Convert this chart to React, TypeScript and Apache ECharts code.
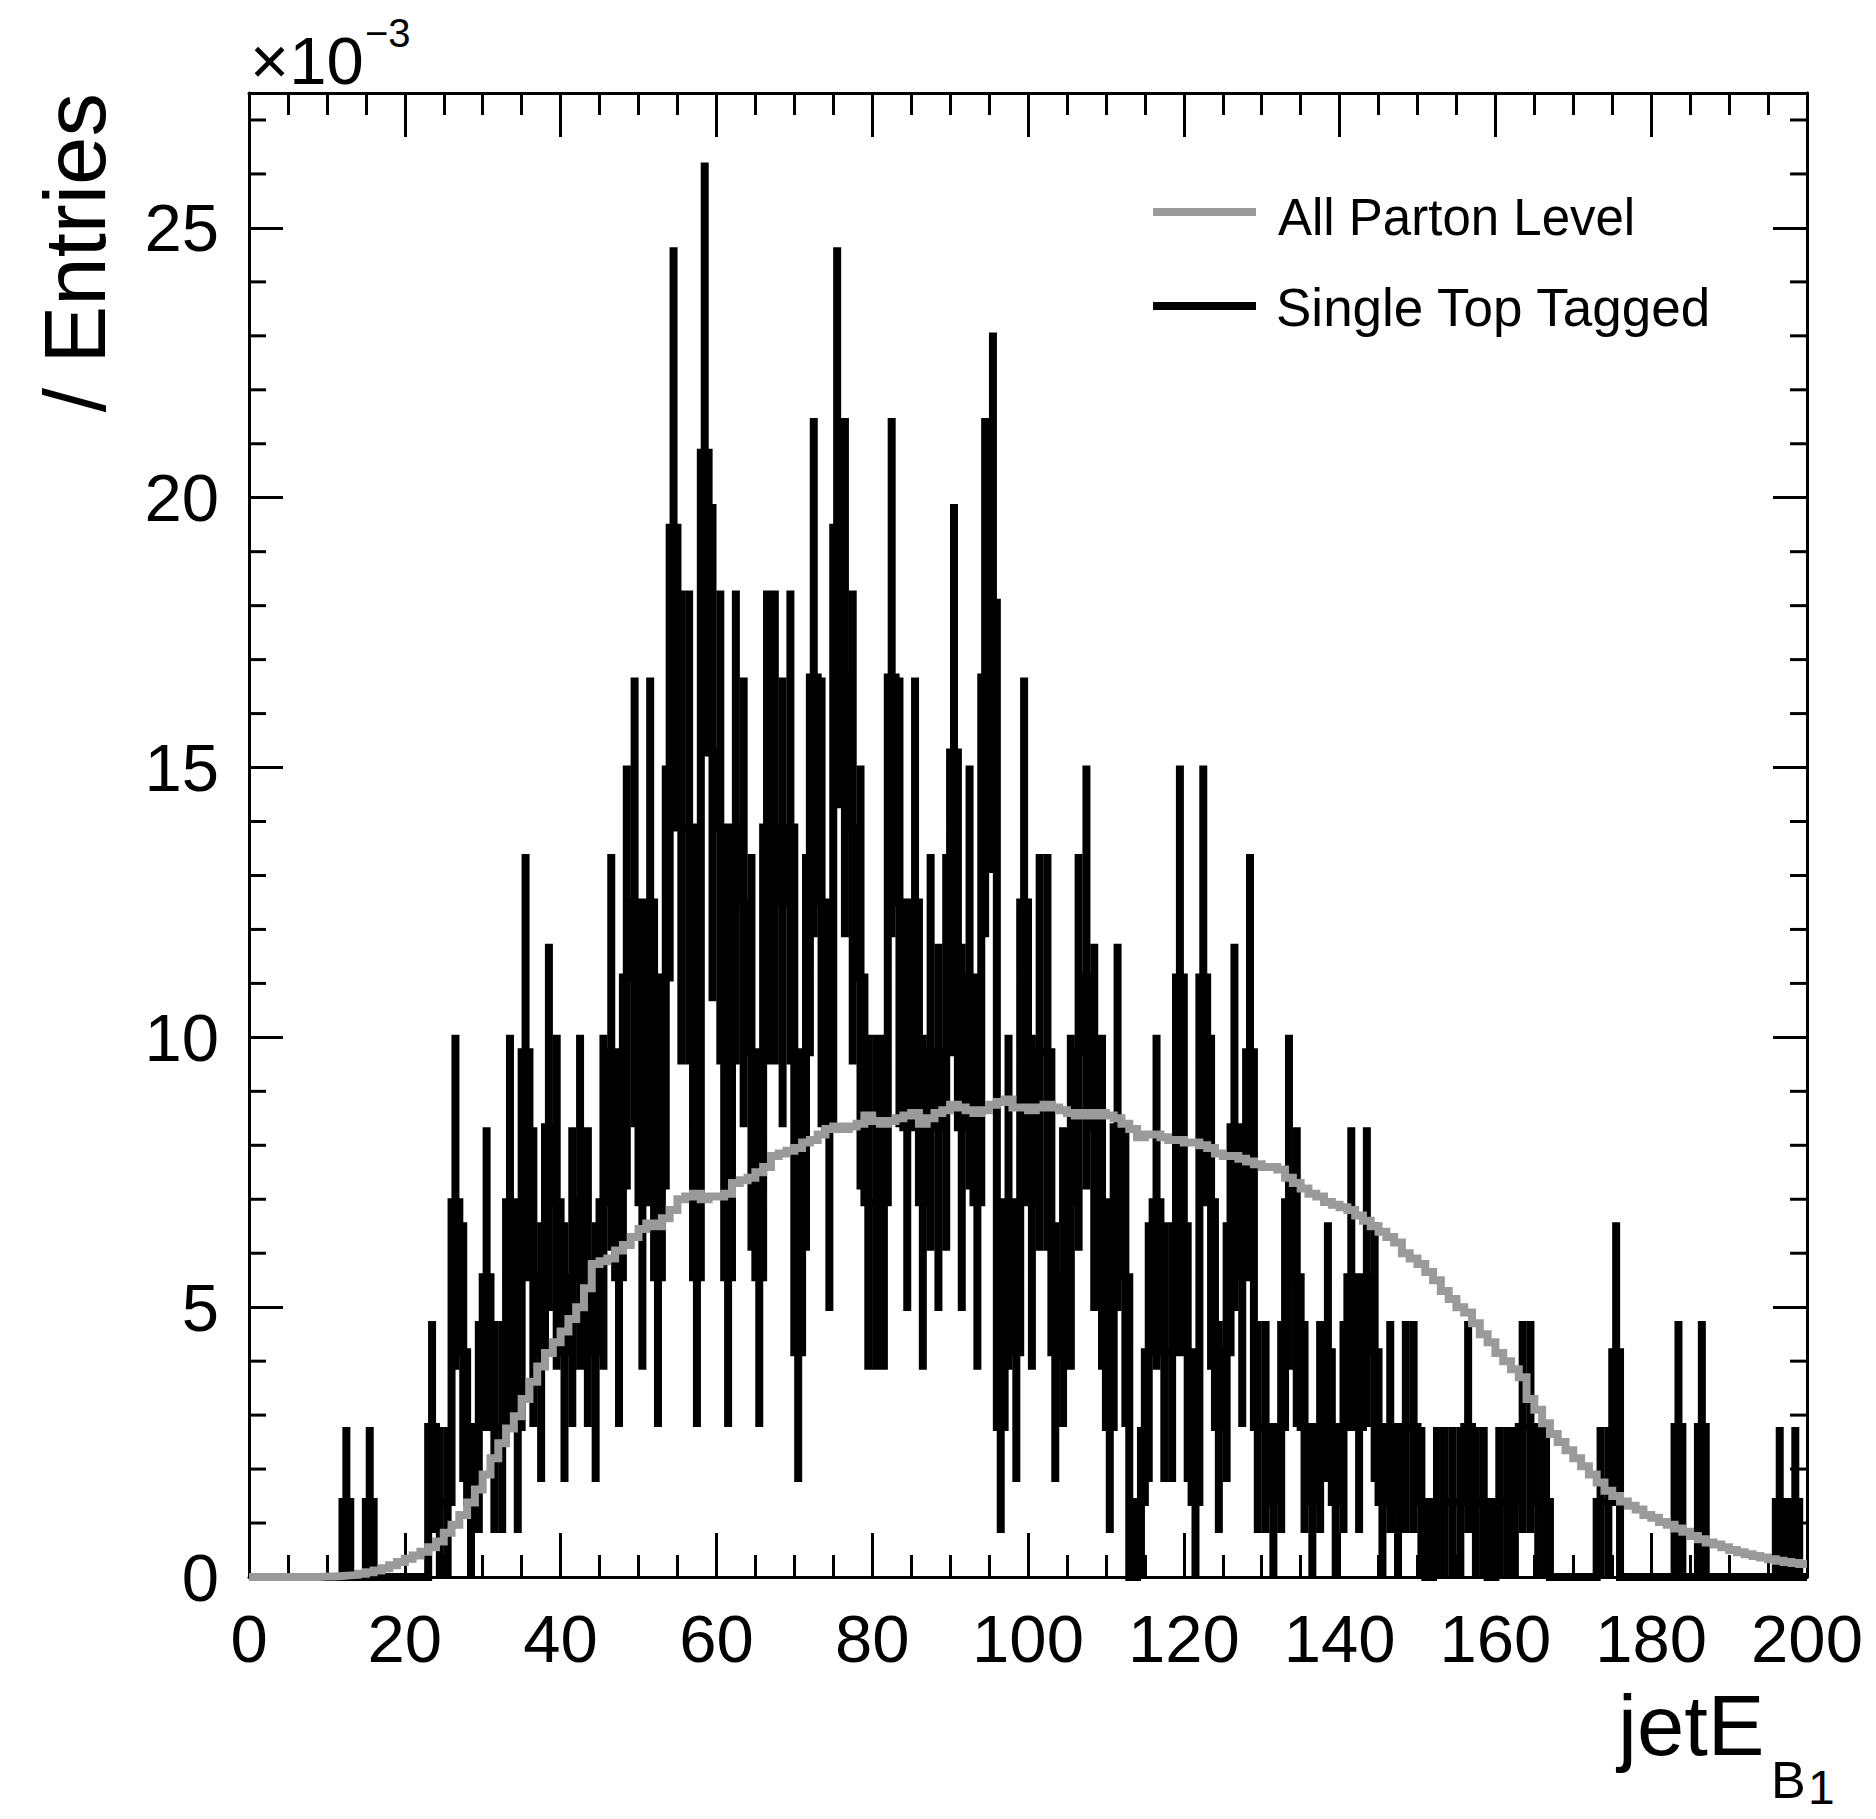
import React, { useEffect, useRef } from "react";
import * as echarts from "echarts";

// Histogram: 200 bins of width 1 on [0, 200]
const X_MIN = 0;
const X_MAX = 200;
const Y_MAX = 27.5; // in units of 1e-3
const NORM_ENTRIES = 720; // each entry weighs 1/720
const Y_UNIT = 1000; // plotted in units of 10^-3

// "Single Top Tagged": entries per bin (black, with sqrt(N) error bars)
const singleTopCounts = [
  0, 0, 0, 0, 0, 0, 0, 0, 0, 0,
  0, 0, 1, 0, 0, 1, 0, 0, 0, 0,
  0, 0, 0, 2, 1, 1, 5, 3, 1, 2,
  4, 2, 2, 5, 2, 7, 4, 3, 6, 5,
  3, 4, 5, 4, 3, 5, 7, 4, 8, 9,
  5, 9, 4, 8, 14, 10, 10, 4, 15, 11,
  10, 4, 10, 9, 7, 4, 10, 10, 9, 10,
  3, 7, 12, 9, 6, 14, 12, 10, 8, 5,
  5, 5, 12, 9, 6, 9, 5, 7, 6, 7,
  11, 6, 8, 5, 12, 13, 2, 5, 3, 9,
  5, 7, 7, 3, 4, 5, 7, 8, 6, 5,
  2, 6, 4, 0, 1, 3, 5, 3, 3, 8,
  3, 1, 8, 5, 2, 3, 6, 4, 7, 2,
  2, 1, 2, 5, 4, 2, 1, 2, 3, 1,
  2, 4, 2, 4, 3, 1, 2, 1, 2, 2,
  1, 0, 1, 1, 1, 1, 2, 1, 1, 0,
  1, 1, 1, 2, 2, 1, 1, 0, 0, 0,
  0, 0, 0, 1, 1, 3, 0, 0, 0, 0,
  0, 0, 0, 2, 0, 0, 2, 0, 0, 0,
  0, 0, 0, 0, 0, 0, 1, 0, 1, 0,
];

// "All Parton Level": bin contents in units of 1e-3 (grey)
const partonLevel = [
  0, 0, 0, 0, 0, 0, 0, 0, 0, 0.01,
  0.01, 0.02, 0.03, 0.04, 0.06, 0.09, 0.12, 0.16, 0.22, 0.28,
  0.34, 0.4, 0.47, 0.55, 0.66, 0.82, 0.97, 1.15, 1.38, 1.62,
  1.9, 2.2, 2.48, 2.75, 2.98, 3.3, 3.62, 3.9, 4.15, 4.35,
  4.55, 4.78, 5.0, 5.35, 5.8, 5.85, 5.9, 6.05, 6.15, 6.3,
  6.45, 6.55, 6.5, 6.65, 6.8, 7.0, 7.05, 7.1, 7.0, 7.05,
  7.05, 7.1, 7.3, 7.35, 7.4, 7.5, 7.6, 7.8, 7.85, 7.9,
  7.95, 8.05, 8.1, 8.2, 8.3, 8.35, 8.3, 8.35, 8.4, 8.55,
  8.45, 8.4, 8.45, 8.5, 8.55, 8.6, 8.4, 8.5, 8.6, 8.65,
  8.75, 8.7, 8.65, 8.6, 8.65, 8.75, 8.8, 8.85, 8.7, 8.7,
  8.65, 8.7, 8.75, 8.7, 8.65, 8.6, 8.55, 8.6, 8.55, 8.6,
  8.55, 8.5, 8.4, 8.3, 8.15, 8.2, 8.2, 8.15, 8.1, 8.1,
  8.05, 8.05, 8.0, 7.95, 7.85, 7.8, 7.8, 7.75, 7.7, 7.65,
  7.6, 7.6, 7.55, 7.4, 7.3, 7.2, 7.1, 7.05, 6.95, 6.9,
  6.85, 6.8, 6.7, 6.6, 6.5, 6.4, 6.3, 6.2, 6.0, 5.9,
  5.8, 5.65, 5.5, 5.3, 5.15, 5.0, 4.9, 4.7, 4.5, 4.35,
  4.15, 4.0, 3.85, 3.7, 3.3, 3.1, 2.85, 2.65, 2.5, 2.35,
  2.2, 2.05, 1.9, 1.75, 1.6, 1.5, 1.4, 1.32, 1.25, 1.15,
  1.1, 1.02, 0.97, 0.9, 0.84, 0.76, 0.7, 0.64, 0.6, 0.55,
  0.5, 0.46, 0.42, 0.39, 0.36, 0.33, 0.3, 0.28, 0.26, 0.24,
];

const yMajorTicks = [0, 5, 10, 15, 20, 25];
const yMinorTicks = [1, 2, 3, 4, 6, 7, 8, 9, 11, 12, 13, 14, 16, 17, 18, 19, 21, 22, 23, 24, 26, 27];

const seriesNames = ["All Parton Level", "Single Top Tagged"];
const xTitle = "jetE";
const xTitleSub = "B";
const xTitleSubSub = "1";
const yTitle = "/ Entries";

const FONT = '"Liberation Sans", Arial, Helvetica, sans-serif';
const GREY = "#9a9a9a";
const LW = 8;

function stepPoints(vals: number[]) {
  const pts = vals.map((v, i) => [X_MIN + i, v]);
  pts.push([X_MIN + vals.length, vals[vals.length - 1]]);
  return pts;
}

function txt(text: string, x: number, y: number, size: number, align: string, rotation = 0) {
  return {
    type: "text",
    x,
    y,
    rotation,
    silent: true,
    style: {
      text,
      x: 0,
      y: 0,
      fill: "#000",
      font: `${size}px ${FONT}`,
      fontSize: size,
      fontFamily: FONT,
      textAlign: align,
      align,
      textVerticalAlign: "middle",
      verticalAlign: "middle",
    },
  };
}

export default function App() {
  const ref = useRef<HTMLDivElement>(null);

  useEffect(() => {
    if (!ref.current) return;
    const chart = echarts.init(ref.current, null, { renderer: "svg" });

    const singleVals = singleTopCounts.map((k) => (k / NORM_ENTRIES) * Y_UNIT);
    const errData: number[][] = [];
    singleTopCounts.forEach((k, i) => {
      if (k > 0) {
        const e = Math.sqrt(k);
        errData.push([X_MIN + i + 0.5, ((k - e) / NORM_ENTRIES) * Y_UNIT, ((k + e) / NORM_ENTRIES) * Y_UNIT]);
      }
    });

    const xAxisBase: any = {
      type: "value",
      min: X_MIN,
      max: X_MAX,
      interval: 20,
      splitLine: { show: false },
      minorSplitLine: { show: false },
      axisLine: { show: true, onZero: false, lineStyle: { color: "#000", width: 3 } },
      axisTick: { show: true, inside: true, length: 44, lineStyle: { color: "#000", width: 3 } },
      minorTick: { show: true, splitNumber: 4, length: 22, lineStyle: { color: "#000", width: 3 } },
    };
    const yAxisBase: any = {
      type: "value",
      min: 0,
      max: Y_MAX,
      interval: 5,
      splitLine: { show: false },
      minorSplitLine: { show: false },
      axisLine: { show: true, onZero: false, lineStyle: { color: "#000", width: 3 } },
      axisTick: { show: true, inside: true, length: 34, lineStyle: { color: "#000", width: 3 } },
      minorTick: { show: false },
    };

    const option: any = {
      animation: false,
      backgroundColor: "#fff",
      grid: {
        left: 249,
        top: 93,
        right: 69,
        bottom: 242,
        containLabel: false,
        outerBoundsMode: "none",
        show: false,
      },
      xAxis: [
        {
          ...xAxisBase,
          position: "bottom",
          axisLabel: {
            show: true,
            color: "#000",
            fontSize: 67,
            fontFamily: FONT,
            margin: 28,
            showMinLabel: true,
            showMaxLabel: true,
            hideOverlap: false,
          },
        },
        { ...xAxisBase, position: "top", axisLabel: { show: false } },
      ],
      yAxis: [
        {
          ...yAxisBase,
          position: "left",
          axisLabel: {
            show: true,
            color: "#000",
            fontSize: 67,
            fontFamily: FONT,
            margin: 30,
            showMinLabel: true,
            showMaxLabel: false,
            formatter: (v: number) => (yMajorTicks.indexOf(v) >= 0 ? String(v) : ""),
          },
        },
        { ...yAxisBase, position: "right", axisLabel: { show: false } },
      ],
      series: [
        {
          name: seriesNames[1] + " errors",
          type: "custom",
          xAxisIndex: 0,
          yAxisIndex: 0,
          clip: false,
          z: 2,
          data: errData,
          encode: { x: 0, y: [1, 2] },
          renderItem: (_p: any, api: any) => {
            const xc = api.value(0);
            const a = api.coord([xc, api.value(1)]);
            const b = api.coord([xc, api.value(2)]);
            return {
              type: "line",
              shape: { x1: a[0], y1: a[1], x2: b[0], y2: b[1] },
              style: { stroke: "#000", lineWidth: LW, lineCap: "butt" },
            };
          },
        },
        {
          name: seriesNames[1],
          type: "line",
          xAxisIndex: 0,
          yAxisIndex: 0,
          step: "end",
          symbol: "none",
          clip: false,
          z: 2,
          data: stepPoints(singleVals),
          lineStyle: { color: "#000", width: LW, cap: "butt", join: "miter" },
        },
        {
          name: "y minor ticks",
          type: "custom",
          xAxisIndex: 0,
          yAxisIndex: 0,
          clip: false,
          z: 3,
          silent: true,
          data: yMinorTicks.map((v) => [v]),
          encode: { y: 0 },
          renderItem: (_p: any, api: any) => {
            const v = api.value(0);
            const l = api.coord([X_MIN, v]);
            const r = api.coord([X_MAX, v]);
            return {
              type: "group",
              children: [
                { type: "line", shape: { x1: l[0], y1: l[1], x2: l[0] + 17, y2: l[1] }, style: { stroke: "#000", lineWidth: 3 } },
                { type: "line", shape: { x1: r[0] - 17, y1: r[1], x2: r[0], y2: r[1] }, style: { stroke: "#000", lineWidth: 3 } },
              ],
            };
          },
        },
        {
          name: seriesNames[0],
          type: "line",
          xAxisIndex: 0,
          yAxisIndex: 0,
          step: "end",
          symbol: "none",
          clip: false,
          z: 4,
          data: stepPoints(partonLevel),
          lineStyle: { color: GREY, width: LW, cap: "butt", join: "miter" },
        },
      ],
      graphic: [
        // exponent
        txt("\u00d710", 250, 60.5, 67, "left"),
        txt("\u22123", 365, 33, 40, "left"),
        // y title
        txt(yTitle, 74.5, 93, 87, "right", Math.PI / 2),
        // x title
        txt(xTitle, 1764.5, 1725.2, 85, "right"),
        txt(xTitleSub, 1771, 1780, 52, "left"),
        txt(xTitleSubSub, 1808, 1787, 48, "left"),
        // legend
        { type: "line", silent: true, shape: { x1: 1153, y1: 212, x2: 1256, y2: 212 }, style: { stroke: GREY, lineWidth: LW } },
        { type: "line", silent: true, shape: { x1: 1153, y1: 306, x2: 1256, y2: 306 }, style: { stroke: "#000", lineWidth: LW } },
        txt(seriesNames[0], 1278, 217.3, 51, "left"),
        txt(seriesNames[1], 1276, 307.3, 53, "left"),
      ],
    };

    chart.setOption(option);
    return () => chart.dispose();
  }, []);

  return (
    <div
      ref={ref}
      style={{ position: "fixed", left: 0, top: 0, width: 1876, height: 1819, background: "#fff" }}
    />
  );
}
